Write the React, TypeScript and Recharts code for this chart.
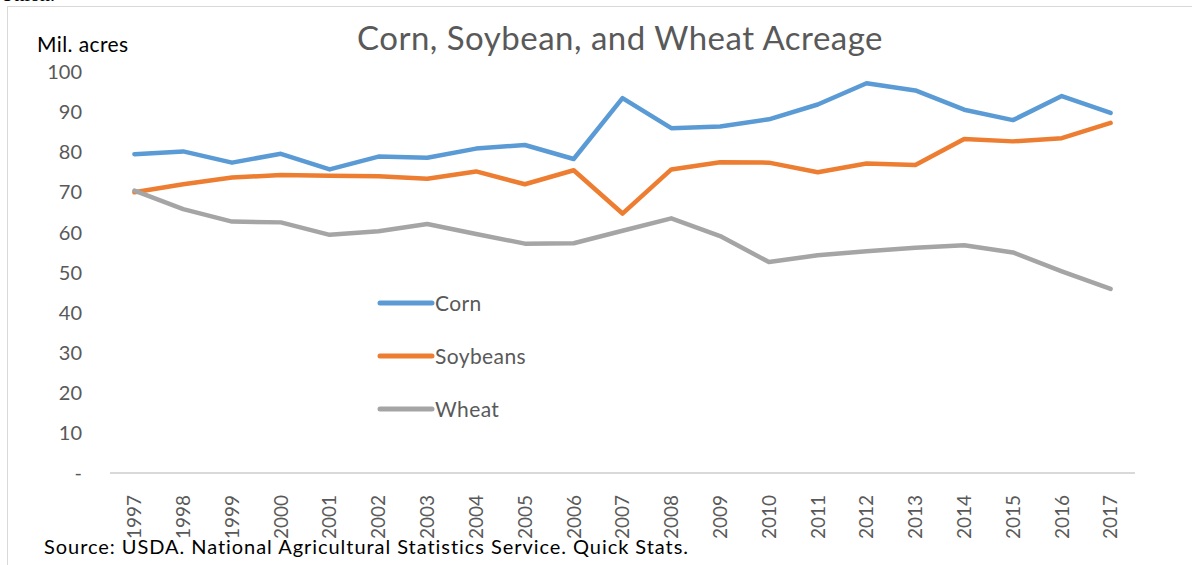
import React from 'react';
import { LineChart, Line, XAxis, YAxis, Legend } from 'recharts';

const years = [
  1997, 1998, 1999, 2000, 2001, 2002, 2003, 2004, 2005, 2006, 2007,
  2008, 2009, 2010, 2011, 2012, 2013, 2014, 2015, 2016, 2017,
];
const corn = [
  79.5, 80.2, 77.4, 79.6, 75.7, 78.9, 78.6, 80.9, 81.8, 78.3, 93.5,
  86.0, 86.4, 88.2, 91.9, 97.2, 95.4, 90.6, 88.0, 94.0, 89.8,
];
const soybeans = [
  70.0, 72.0, 73.7, 74.3, 74.1, 74.0, 73.4, 75.2, 72.0, 75.5, 64.7,
  75.7, 77.5, 77.4, 75.0, 77.2, 76.8, 83.3, 82.7, 83.5, 87.3,
];
const wheat = [
  70.4, 65.8, 62.7, 62.5, 59.4, 60.3, 62.1, 59.6, 57.2, 57.3, 60.4,
  63.5, 59.1, 52.6, 54.3, 55.3, 56.2, 56.8, 55.0, 50.3, 45.9,
];
const yTicks = [0, 10, 20, 30, 40, 50, 60, 70, 80, 90, 100];

const data = years.map((year, i) => ({
  year,
  corn: corn[i],
  soybeans: soybeans[i],
  wheat: wheat[i],
}));

// tick marks sit between the years, like Excel's category axis
const edgeTicks = [...years.map((y) => y - 0.5), years[years.length - 1] + 0.5];

const FONT = 'Lato, "Open Sans", sans-serif';
const GREY_TEXT = '#595959';
const AXIS_GREY = '#D9D9D9';

const YearTick = (props: any) => {
  const { x, y, payload } = props;
  return (
    <text
      x={x}
      y={y + 13}
      transform={`rotate(-90, ${x}, ${y + 13})`}
      textAnchor="end"
      dy="0.36em"
      fill={GREY_TEXT}
      fontSize={19}
      fontFamily={FONT}
    >
      {payload.value}
    </text>
  );
};

const renderLegend = (props: any) => {
  const { payload } = props;
  return (
    <div style={{ fontFamily: FONT }}>
      {payload.map((entry: any, index: number) => (
        <div
          key={index}
          style={{ display: 'flex', alignItems: 'center', height: 53 }}
        >
          <svg width={58} height={8}>
            <line
              x1={3}
              y1={4}
              x2={55}
              y2={4}
              stroke={entry.color}
              strokeWidth={5}
              strokeLinecap="round"
            />
          </svg>
          <span style={{ fontSize: 21, letterSpacing: 0.4, color: GREY_TEXT }}>
            {entry.value}
          </span>
        </div>
      ))}
    </div>
  );
};

export default function App() {
  return (
    <div
      style={{
        position: 'absolute',
        left: 0,
        top: 0,
        width: 1192,
        height: 565,
        background: '#fff',
        overflow: 'hidden',
        fontFamily: FONT,
      }}
    >
      {/* cut-off body text above the figure */}
      <div
        style={{
          position: 'absolute',
          left: 0,
          top: -17,
          fontFamily: '"Liberation Serif", serif',
          fontSize: 20,
          color: '#000',
        }}
      >
        Union.
      </div>
      {/* frame of the chart area */}
      <div
        style={{
          position: 'absolute',
          left: 7,
          top: 6,
          width: 1200,
          height: 600,
          borderLeft: `1.5px solid ${AXIS_GREY}`,
          borderTop: `1.5px solid ${AXIS_GREY}`,
        }}
      />
      <div
        style={{
          position: 'absolute',
          left: 0,
          width: 1240,
          top: 17,
          textAlign: 'center',
          fontSize: 33,
          letterSpacing: 0.5,
          color: GREY_TEXT,
        }}
      >
        Corn, Soybean, and Wheat Acreage
      </div>
      <div
        style={{
          position: 'absolute',
          left: 37,
          top: 31,
          fontSize: 21,
          letterSpacing: 0.4,
          color: '#000',
        }}
      >
        Mil. acres
      </div>
      <div style={{ position: 'absolute', left: 0, top: 0 }}>
        <LineChart
          width={1192}
          height={565}
          data={data}
          margin={{ top: 72, right: 57, left: 0, bottom: 0 }}
        >
          <XAxis
            xAxisId="edges"
            type="number"
            dataKey="year"
            domain={[1996.5, 2017.5]}
            ticks={edgeTicks}
            allowDataOverflow
            height={1}
            tick={false}
            tickSize={7}
            tickLine={{ stroke: AXIS_GREY, strokeWidth: 1.5 }}
            axisLine={{ stroke: AXIS_GREY, strokeWidth: 2 }}
          />
          <XAxis
            xAxisId="labels"
            type="number"
            dataKey="year"
            domain={[1996.5, 2017.5]}
            ticks={years}
            allowDataOverflow
            height={91}
            axisLine={false}
            tickLine={false}
            tick={<YearTick />}
            interval={0}
          />
          <YAxis
            width={110}
            domain={[0, 100]}
            ticks={yTicks}
            interval={0}
            axisLine={false}
            tickLine={false}
            tickSize={0}
            tickMargin={28}
            tick={{ fill: GREY_TEXT, fontSize: 20, fontFamily: FONT }}
            tickFormatter={(v: number) => (v === 0 ? '-' : String(v))}
          />
          <Legend
            content={renderLegend}
            layout="vertical"
            align="center"
            verticalAlign="middle"
            wrapperStyle={{ left: 377, top: 276, width: 200 }}
          />
          <Line
            xAxisId="labels"
            type="linear"
            dataKey="corn"
            name="Corn"
            stroke="#5B9BD5"
            strokeWidth={4.5}
            strokeLinejoin="round"
            strokeLinecap="round"
            dot={false}
            isAnimationActive={false}
          />
          <Line
            xAxisId="labels"
            type="linear"
            dataKey="soybeans"
            name="Soybeans"
            stroke="#ED7D31"
            strokeWidth={4.5}
            strokeLinejoin="round"
            strokeLinecap="round"
            dot={false}
            isAnimationActive={false}
          />
          <Line
            xAxisId="labels"
            type="linear"
            dataKey="wheat"
            name="Wheat"
            stroke="#A5A5A5"
            strokeWidth={4.5}
            strokeLinejoin="round"
            strokeLinecap="round"
            dot={false}
            isAnimationActive={false}
          />
        </LineChart>
      </div>
      <div
        style={{
          position: 'absolute',
          left: 44,
          top: 534,
          height: 23,
          overflow: 'hidden',
          fontSize: 20,
          letterSpacing: 0.95,
          color: '#000',
          whiteSpace: 'nowrap',
        }}
      >
        Source: USDA. National Agricultural Statistics Service. Quick Stats.
      </div>
    </div>
  );
}
